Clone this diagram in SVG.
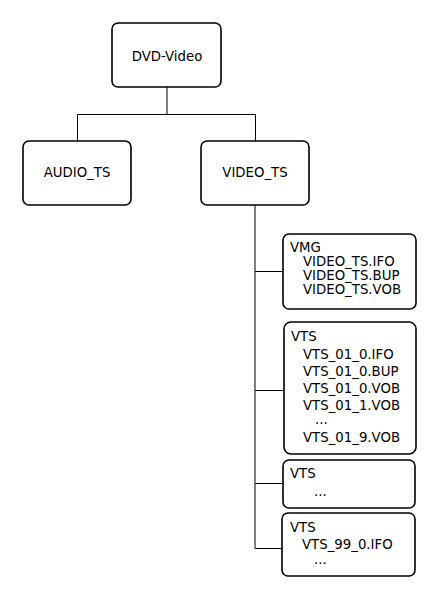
<svg xmlns="http://www.w3.org/2000/svg" width="440" height="599" viewBox="0 0 440 599">
<style>
.box{fill:#fff;stroke:#000;stroke-width:1.6}
.t{font-family:"DejaVu Sans",sans-serif;font-size:13.3px;fill:#000}
.c{text-anchor:middle}
.ln{stroke:#000;stroke-width:1;fill:none}
</style>
<rect width="440" height="599" fill="#fff"/>
<g id="connectors">
<path class="ln" d="M167 87V114.5M77.5 114.5H255.5M77.5 114.5V141M255.5 114.5V141"/>
<path class="ln" d="M255 205V548.5M255 271.5H283M255 390.5H284M255 483.5H283M255 548.5H283"/>
</g>
<g id="dvd-video">
<rect class="box" x="112" y="23" width="109" height="64" rx="6"/>
<text class="t c" x="167" y="61">DVD-Video</text>
</g>
<g id="audio_ts">
<rect class="box" x="23" y="141" width="108" height="64" rx="6"/>
<text class="t c" x="77" y="177">AUDIO_TS</text>
</g>
<g id="video_ts">
<rect class="box" x="201" y="141" width="108" height="64" rx="6"/>
<text class="t c" x="255" y="177">VIDEO_TS</text>
</g>
<g id="vmg">
<rect class="box" x="283" y="234" width="133" height="75" rx="6"/>
<text class="t" x="290" y="252">VMG</text>
<text class="t" x="303" y="266">VIDEO_TS.IFO</text>
<text class="t" x="303" y="280">VIDEO_TS.BUP</text>
<text class="t" x="303" y="294">VIDEO_TS.VOB</text>
</g>
<g id="vts1">
<rect class="box" x="284" y="322" width="132" height="132" rx="7"/>
<text class="t" x="291" y="341">VTS</text>
<text class="t" x="303" y="359">VTS_01_0.IFO</text>
<text class="t" x="303" y="376">VTS_01_0.BUP</text>
<text class="t" x="303" y="393">VTS_01_0.VOB</text>
<text class="t" x="303" y="410">VTS_01_1.VOB</text>
<text class="t" x="315" y="424">...</text>
<text class="t" x="303" y="442">VTS_01_9.VOB</text>
</g>
<g id="vts2">
<rect class="box" x="283" y="460" width="132" height="48" rx="6"/>
<text class="t" x="290" y="478">VTS</text>
<text class="t" x="314" y="496">...</text>
</g>
<g id="vts3">
<rect class="box" x="282" y="513" width="133" height="63" rx="6"/>
<text class="t" x="290" y="532">VTS</text>
<text class="t" x="302" y="549">VTS_99_0.IFO</text>
<text class="t" x="314" y="564">...</text>
</g>
</svg>
